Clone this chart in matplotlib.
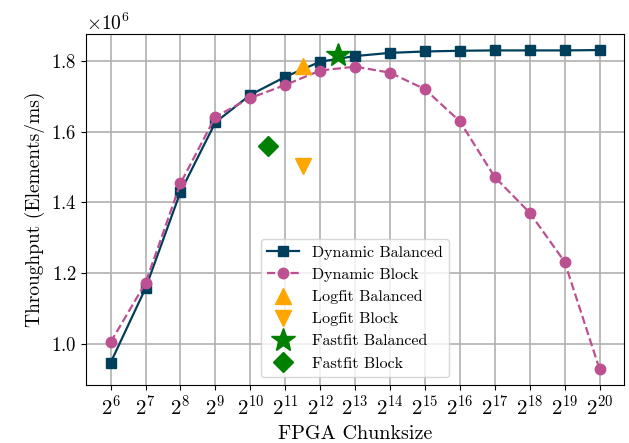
import matplotlib
matplotlib.use("Agg")
import matplotlib.pyplot as plt

plt.rcParams['font.family'] = 'serif'
plt.rcParams['font.serif'] = ['cmr10']
plt.rcParams['mathtext.fontset'] = 'cm'
plt.rcParams['axes.formatter.use_mathtext'] = True

# chunk sizes as powers of two
exponents = list(range(6, 21))
chunksizes = [2 ** e for e in exponents]

dynamic_balanced = [0.946, 1.157, 1.430, 1.627, 1.705, 1.756, 1.799, 1.815,
                    1.824, 1.828, 1.830, 1.831, 1.831, 1.831, 1.832]
dynamic_block = [1.004, 1.172, 1.454, 1.643, 1.696, 1.733, 1.774, 1.785,
                 1.768, 1.721, 1.630, 1.472, 1.371, 1.232, 0.928]

logfit_balanced = (2 ** 11.5, 1.787)
logfit_block = (2 ** 11.5, 1.504)
fastfit_balanced = (2 ** 12.5, 1.817)
fastfit_block = (2 ** 10.5, 1.560)

scale = 1e6

fig = plt.figure(figsize=(6.29, 4.43), dpi=100)
ax = fig.add_axes([0.137, 0.131, 0.855, 0.792])

ax.plot(chunksizes, [v * scale for v in dynamic_balanced], marker='s', markersize=7,
        color='#003f5c', linewidth=1.6, label='Dynamic Balanced')
ax.plot(chunksizes, [v * scale for v in dynamic_block], marker='o', markersize=7.5,
        color='#bc5090', linewidth=1.6, linestyle='--', label='Dynamic Block')
ax.plot(logfit_balanced[0], logfit_balanced[1] * scale, marker='^', markersize=12,
        color='#ffa600', linestyle='none', label='Logfit Balanced')
ax.plot(logfit_block[0], logfit_block[1] * scale, marker='v', markersize=12,
        color='#ffa600', linestyle='none', label='Logfit Block')
ax.plot(fastfit_balanced[0], fastfit_balanced[1] * scale, marker='*', markersize=18,
        color='green', linestyle='none', label='Fastfit Balanced')
ax.plot(fastfit_block[0], fastfit_block[1] * scale, marker='D', markersize=10,
        color='green', linestyle='none', label='Fastfit Block')

ax.set_xscale('log', base=2)
ax.set_xticks(chunksizes)
ax.minorticks_off()
ax.tick_params(axis='x', labelsize=15)
ax.tick_params(axis='y', labelsize=13.5)
ax.yaxis.get_offset_text().set_fontsize(14)

ax.set_xlabel('FPGA Chunksize', fontsize=14.5)
ax.set_ylabel('Throughput (Elements/ms)', fontsize=14)
ax.grid(True, color='#b0b0b0', linewidth=1.2)
ax.set_axisbelow(True)

ax.legend(loc='lower center', fontsize=11.5)

fig.savefig('out.png', dpi=100)
